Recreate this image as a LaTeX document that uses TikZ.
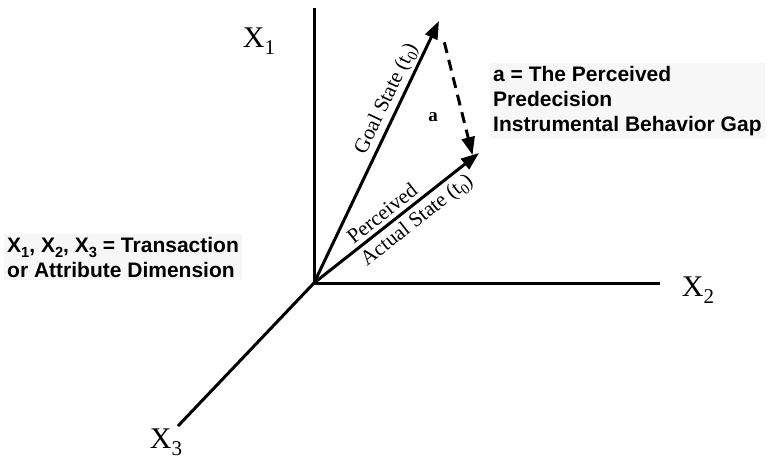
\documentclass[tikz,border=0pt]{standalone}
\usepackage{fontspec}
\setmainfont{Liberation Serif}
\newfontfamily\gapfont{Liberation Sans}
\usepackage{tikz}
\usetikzlibrary{arrows.meta, calc}

\newcommand{\lowsub}[1]{\raisebox{-0.5ex}{\fontsize{0.7em}{1em}\selectfont #1}}

\begin{document}
\begin{tikzpicture}[x=1pt, y=-1pt,
    axis/.style={line width=3pt},
    vec/.style={line width=3pt, -{Triangle[length=18pt,width=13pt]}},
    gap/.style={line width=3pt, dash pattern=on 11pt off 7pt, -{Triangle[length=18pt,width=13pt]}},
    axislabel/.style={font=\fontsize{30}{32}\selectfont, inner sep=0pt},
    veclabel/.style={font=\fontsize{21}{23}\selectfont, inner sep=4pt},
    keytext/.style={font=\gapfont\bfseries\fontsize{21}{25}\selectfont, align=left, fill=black!3, inner sep=3pt}]
    \useasboundingbox (0,0) rectangle (774,460);

    % Assi
    \coordinate (o) at (314,283);
    \coordinate (x1end) at (314,8);
    \coordinate (x2end) at (660,283);
    \coordinate (x3end) at (178,426);
    \draw[axis] (o) -- (x1end);
    \draw[axis] (o) -- (x2end);
    \draw[axis] (o) -- (x3end);
    \node[axislabel] (x1) at (259,41) {X\lowsub{1}};
    \node[axislabel] (x2) at (698,290) {X\lowsub{2}};
    \node[axislabel] (x3) at (166,442) {X\lowsub{3}};

    % Vettori
    \coordinate (goal) at (439,21);
    \coordinate (actual) at (479,153);
    \draw[vec] (o) -- (goal)
        node[veclabel, pos=0.68, above, sloped, inner sep=2pt] {Goal State (t\lowsub{0})};
    \draw[vec] (o) -- (actual)
        node[veclabel, pos=0.46, above, sloped] {Perceived}
        node[veclabel, pos=0.57, below, sloped] {Actual State (t\lowsub{0})};
    \draw[gap, shorten <=22pt, shorten >=2pt] (goal) -- ($(actual)+(-6,4)$);
    \node[font=\bfseries\fontsize{19}{21}\selectfont] (a) at (433,117) {a};

    % Legenda
    \node[keytext, anchor=north west] (gapkey) at (490,63)
        {a = The Perceived\\Predecision\\Instrumental Behavior Gap};
    \node[keytext, anchor=west] (dimkey) at (4,257)
        {X\lowsub{1}, X\lowsub{2}, X\lowsub{3} = Transaction\\or Attribute Dimension};
\end{tikzpicture}
\end{document}
